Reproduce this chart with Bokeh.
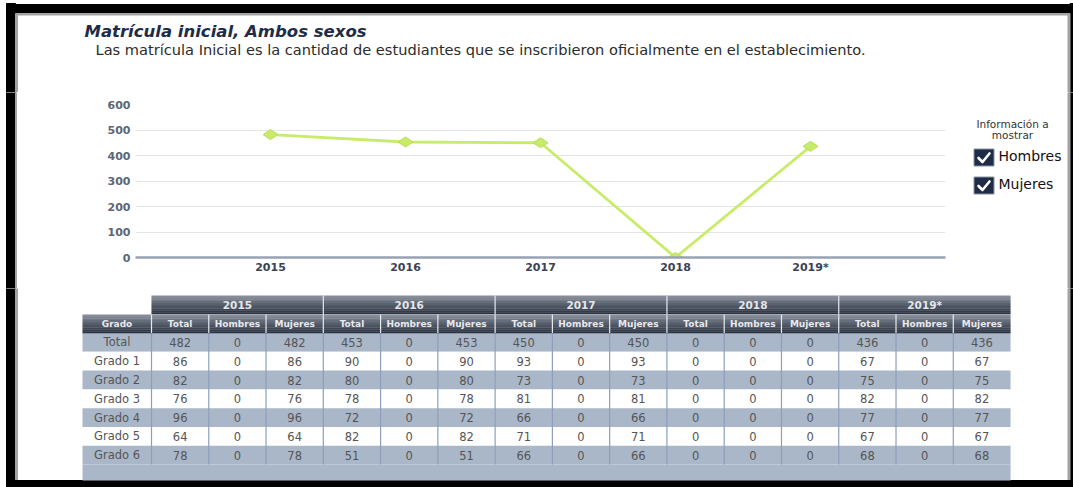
import math
from bokeh.plotting import figure
from bokeh.layouts import column, row
from bokeh.models import Range1d, FixedTicker
from bokeh.core.properties import value
from bokeh.embed import file_html
from bokeh.resources import INLINE

# ---------------- data ----------------
title_text = "Matrícula inicial, Ambos sexos"
subtitle_text = ("Las matrícula Inicial es la cantidad de estudiantes que se inscribieron "
                 "oficialmente en el establecimiento.")
years = ["2015", "2016", "2017", "2018", "2019*"]
matricula_total = [482, 453, 450, 0, 436]
y_ticks = [0, 100, 200, 300, 400, 500, 600]
legend_title = ["Información a", "mostrar"]
legend_items = ["Hombres", "Mujeres"]

grados = ["Total", "Grado 1", "Grado 2", "Grado 3", "Grado 4", "Grado 5", "Grado 6"]
sub_cols = ["Total", "Hombres", "Mujeres"]
total_2015 = [482, 86, 82, 76, 96, 64, 78]
hombres_2015 = [0, 0, 0, 0, 0, 0, 0]
mujeres_2015 = [482, 86, 82, 76, 96, 64, 78]
total_2016 = [453, 90, 80, 78, 72, 82, 51]
hombres_2016 = [0, 0, 0, 0, 0, 0, 0]
mujeres_2016 = [453, 90, 80, 78, 72, 82, 51]
total_2017 = [450, 93, 73, 81, 66, 71, 66]
hombres_2017 = [0, 0, 0, 0, 0, 0, 0]
mujeres_2017 = [450, 93, 73, 81, 66, 71, 66]
total_2018 = [0, 0, 0, 0, 0, 0, 0]
hombres_2018 = [0, 0, 0, 0, 0, 0, 0]
mujeres_2018 = [0, 0, 0, 0, 0, 0, 0]
total_2019 = [436, 67, 75, 82, 77, 67, 68]
hombres_2019 = [0, 0, 0, 0, 0, 0, 0]
mujeres_2019 = [436, 67, 75, 82, 77, 67, 68]

table_by_year = [
    [total_2015, hombres_2015, mujeres_2015],
    [total_2016, hombres_2016, mujeres_2016],
    [total_2017, hombres_2017, mujeres_2017],
    [total_2018, hombres_2018, mujeres_2018],
    [total_2019, hombres_2019, mujeres_2019],
]

# ---------------- styles / page geometry ----------------
FONT = value("DejaVu Sans")
PW, PH = 1073, 487
LINE_GREEN = "#c8ec6a"
NAVY = "#1f2c48"
GRAY_ROW = "#aab7c9"
SEP_BLUE = "#8d9fbd"
FRAME_GRAY = "#a3a3a3"
HEAD_TOP = (0x86, 0x8d, 0x99)
HEAD_BOT = (0x2a, 0x31, 0x40)
# black frame of the screenshot
FL0, FL1, FL2 = 6, 15, 17        # left: black from FL0 to FL1, gray line to FL2
FT0, FT1, FT2 = 4, 13, 14.5      # top
FR0, FR1 = 1067.5, 1069.5        # right: gray line then black to page edge
FB0 = 480                        # bottom black


def base_fig(x0, y0, w, h):
    f = figure(width=w, height=h, x_range=Range1d(x0, x0 + w), y_range=Range1d(y0 + h, y0),
               output_backend="svg", toolbar_location=None, min_border=0,
               x_axis_location=None, y_axis_location=None, frame_align=False)
    f.grid.visible = False
    f.outline_line_color = None
    f.background_fill_color = "white"
    f.border_fill_color = "white"
    return f


def frame_sides(f, y0, y1, left=True, right=True):
    # extend one pixel past the panel so neighbouring panels join without seams
    if left:
        f.quad(left=FL0, right=FL1, top=y0 - 1, bottom=y1 + 1, color="black")
        f.quad(left=FL1, right=FL2, top=max(y0 - 1, FT1), bottom=min(y1 + 1, FB0),
               color=FRAME_GRAY)
    if right:
        f.quad(left=FR1, right=PW + 1, top=y0 - 1, bottom=y1 + 1, color="black")
        f.quad(left=FR0, right=FR1, top=max(y0 - 1, FT1), bottom=min(y1 + 1, FB0),
               color=FRAME_GRAY)


# ---------------- header ----------------
HDR_H = 92
hdr = base_fig(0, 0, PW, HDR_H)
hdr.quad(left=FL0, right=PW + 1, top=FT0, bottom=FT1, color="black")
hdr.quad(left=FL1, right=FR1, top=FT1, bottom=FT2, color=FRAME_GRAY)
frame_sides(hdr, FT0, HDR_H)
hdr.text(x=[84], y=[31], text=[title_text], text_font=FONT, text_font_size="16.5px",
         text_font_style="bold italic", text_color=NAVY, text_align="left",
         text_baseline="middle")
hdr.text(x=[95], y=[48.5], text=[subtitle_text], text_font=FONT, text_font_size="14.6px",
         text_color="#2b2b2b", text_align="left", text_baseline="middle")

# ---------------- chart row ----------------
ROW_Y0, CH = HDR_H, 196
strip = base_fig(0, ROW_Y0, FL2, CH)
frame_sides(strip, ROW_Y0, ROW_Y0 + CH, right=False)

CH_X0, CH_X1 = FL2, 960
ch = figure(width=CH_X1 - CH_X0, height=CH, x_range=Range1d(-1, 5), y_range=Range1d(0, 600),
            output_backend="svg", toolbar_location=None, frame_align=False,
            min_border_left=135 - CH_X0, min_border_right=CH_X1 - 945,
            min_border_top=104 - ROW_Y0, min_border_bottom=ROW_Y0 + CH - 257)
ch.outline_line_color = None
ch.border_fill_color = "white"
ch.xgrid.visible = False
ch.ygrid.grid_line_color = "#e4e4e4"
ch.ygrid.grid_line_width = 1.2
ch.yaxis.ticker = FixedTicker(ticks=y_ticks)
ch.xaxis.ticker = FixedTicker(ticks=list(range(len(years))))
ch.xaxis.major_label_overrides = {i: y for i, y in enumerate(years)}
for ax in (ch.xaxis[0], ch.yaxis[0]):
    ax.major_tick_line_color = None
    ax.minor_tick_line_color = None
    ax.major_tick_out = 0
    ax.major_tick_in = 0
    ax.minor_tick_out = 0
    ax.major_label_text_font = "DejaVu Sans"
    ax.major_label_text_font_size = "11px"
    ax.major_label_text_font_style = "bold"
ch.yaxis.major_label_standoff = 5
ch.xaxis.major_label_standoff = 3
ch.yaxis.axis_line_color = None
ch.yaxis.major_label_text_color = "#5b6678"
ch.xaxis.axis_line_color = "#98a2b3"
ch.xaxis.axis_line_width = 2.5
ch.xaxis.major_label_text_color = "#3a4354"

xs = list(range(len(years)))
ch.line(xs, matricula_total, line_color=LINE_GREEN, line_width=2.8)
ch.scatter(xs, matricula_total, marker="diamond", angle=math.pi / 2, size=15,
           fill_color=LINE_GREEN, line_color="#b9de5c", line_width=1)

# legend panel
lg = base_fig(CH_X1, ROW_Y0, PW - CH_X1, CH)
frame_sides(lg, ROW_Y0, ROW_Y0 + CH, left=False)
lg.text(x=[1012, 1012], y=[123, 134], text=legend_title, text_font=FONT,
        text_font_size="10.5px", text_color="#333333", text_align="center",
        text_baseline="middle")
box_x, box_y = [983.5, 983.5], [157, 185]
lg.rect(x=box_x, y=box_y, width=20, height=17, fill_color=NAVY,
        line_color="#8a93a4", line_width=1)
lg.multi_line(xs=[[bx - 5.5, bx - 1.5, bx + 5.5] for bx in box_x],
              ys=[[by + 0.5, by + 4.5, by - 4] for by in box_y],
              line_color="white", line_width=2.6, line_join="round", line_cap="round")
lg.text(x=[998, 998], y=[155, 183], text=legend_items, text_font=FONT,
        text_font_size="14px", text_color="#111111", text_align="left",
        text_baseline="middle")

# ---------------- table ----------------
TB_Y0 = ROW_Y0 + CH
TB_H = PH - TB_Y0
tb = base_fig(0, TB_Y0, PW, TB_H)
frame_sides(tb, TB_Y0, PH)
tb.quad(left=FL0, right=PW + 1, top=FB0, bottom=PH + 1, color="black")

GX0, GW = 82, 69
CX0, CWID = 151, 57.27
H1_TOP, H1_H = 295, 18.5
H2_TOP, H2_H = 314, 18.5
ROW_TOP, ROW_H = 332.5, 18.8
ncols = len(years) * len(sub_cols)
RIGHT = CX0 + ncols * CWID
n_rows = len(grados)

rl, rr, rt, rb, rc = [], [], [], [], []
for i in range(n_rows):
    rl.append(GX0); rr.append(RIGHT)
    rt.append(ROW_TOP + i * ROW_H); rb.append(ROW_TOP + (i + 1) * ROW_H)
    rc.append(GRAY_ROW if i % 2 == 0 else "white")
rl.append(GX0); rr.append(RIGHT); rt.append(ROW_TOP + n_rows * ROW_H); rb.append(FB0)
rc.append(GRAY_ROW)
tb.quad(left=rl, right=rr, top=rt, bottom=rb, fill_color=rc, line_color=None)

vx = [CX0 + c * CWID for c in range(ncols)]
tb.segment(x0=vx, y0=[ROW_TOP] * len(vx), x1=vx, y1=[ROW_TOP + n_rows * ROW_H] * len(vx),
           line_color=SEP_BLUE, line_width=1.2)

NSTRIP = 10
def grad(k):
    t = k / (NSTRIP - 1)
    c = [round(HEAD_TOP[j] + (HEAD_BOT[j] - HEAD_TOP[j]) * t) for j in range(3)]
    return "#%02x%02x%02x" % tuple(c)

hl, hr, ht, hbm, hc = [], [], [], [], []
for top, h, left in ((H1_TOP, H1_H, CX0), (H2_TOP, H2_H, GX0)):
    for k in range(NSTRIP):
        hl.append(left); hr.append(RIGHT)
        ht.append(top + k * h / NSTRIP); hbm.append(top + (k + 1) * h / NSTRIP + 0.3)
        hc.append(grad(k))
tb.quad(left=hl, right=hr, top=ht, bottom=hbm, fill_color=hc, line_color=None)

g_sep = [CX0 + 3 * j * CWID for j in range(1, len(years))]
tb.segment(x0=g_sep, y0=[H1_TOP] * len(g_sep), x1=g_sep, y1=[H1_TOP + H1_H] * len(g_sep),
           line_color="#e6e9ee", line_width=1.2)
s_sep = [CX0 + c * CWID for c in range(ncols)]
tb.segment(x0=s_sep, y0=[H2_TOP] * len(s_sep), x1=s_sep, y1=[H2_TOP + H2_H] * len(s_sep),
           line_color="#e6e9ee", line_width=1.2)

tb.text(x=[CX0 + (3 * j + 1.5) * CWID for j in range(len(years))],
        y=[H1_TOP + H1_H / 2 + 0.5] * len(years), text=years, text_font=FONT,
        text_font_size="10.5px", text_font_style="bold", text_color="#e4e6ea",
        text_align="center", text_baseline="middle")
sx = [GX0 + GW / 2] + [CX0 + (c + 0.5) * CWID for c in range(ncols)]
st = ["Grado"] + [sub_cols[c % 3] for c in range(ncols)]
tb.text(x=sx, y=[H2_TOP + H2_H / 2 + 0.5] * len(sx), text=st, text_font=FONT,
        text_font_size="9px", text_font_style="bold", text_color="#e8eaee",
        text_align="center", text_baseline="middle")

bx, by, bt = [], [], []
for i, g in enumerate(grados):
    bx.append(GX0 + GW / 2); by.append(ROW_TOP + (i + 0.5) * ROW_H); bt.append(g)
for j, series in enumerate(table_by_year):
    for k, vals in enumerate(series):
        c = 3 * j + k
        for i, v in enumerate(vals):
            bx.append(CX0 + (c + 0.5) * CWID)
            by.append(ROW_TOP + (i + 0.5) * ROW_H)
            bt.append(str(v))
tb.text(x=bx, y=by, text=bt, text_font=FONT, text_font_size="11.5px", text_color="#555555",
        text_align="center", text_baseline="middle")

layout = column(hdr, row(strip, ch, lg), tb)
open("out.html", "w").write(file_html(layout, INLINE))
